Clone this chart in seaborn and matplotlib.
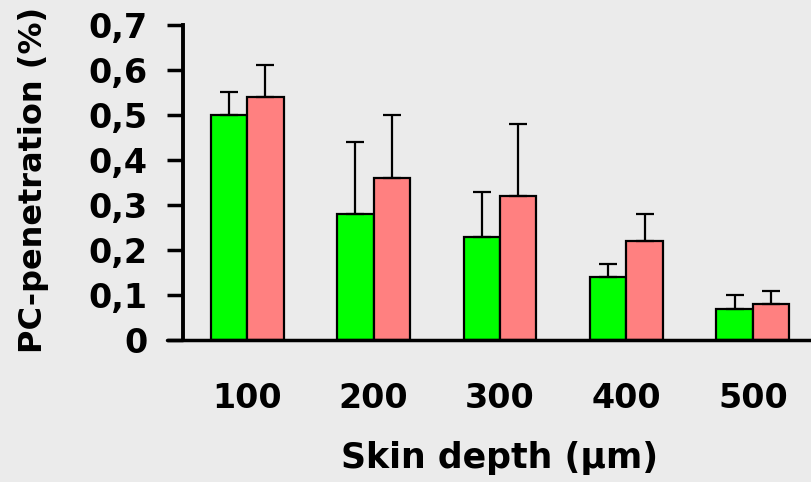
import matplotlib
matplotlib.use("Agg")
import matplotlib.pyplot as plt
import seaborn as sns
import pandas as pd
import numpy as np

depths = ["100", "200", "300", "400", "500"]
series_names = ["A", "B"]
green_vals = [0.50, 0.28, 0.23, 0.14, 0.07]
pink_vals = [0.54, 0.36, 0.32, 0.22, 0.08]
green_err = [0.05, 0.16, 0.10, 0.03, 0.03]
pink_err = [0.07, 0.14, 0.16, 0.06, 0.03]
yticks = [0, 0.1, 0.2, 0.3, 0.4, 0.5, 0.6, 0.7]
ytick_labels = ["0", "0,1", "0,2", "0,3", "0,4", "0,5", "0,6", "0,7"]

bg = "#ebebeb"
sns.set_style("white", {"axes.facecolor": bg, "figure.facecolor": bg,
                        "text.color": "black", "axes.labelcolor": "black",
                        "xtick.color": "black", "ytick.color": "black",
                        "axes.edgecolor": "black"})
plt.rcParams["font.family"] = ["DejaVu Sans"]
plt.rcParams["font.weight"] = "bold"

df = pd.DataFrame({
    "depth": depths * 2,
    "series": [series_names[0]] * 5 + [series_names[1]] * 5,
    "value": green_vals + pink_vals,
})

fig = plt.figure(figsize=(8.12, 4.82), dpi=100)
ax = fig.add_axes([183 / 812, 1 - 340 / 482, 1 - 183 / 812, (340 - 25) / 482])
ax.set_facecolor(bg)

sns.barplot(data=df, x="depth", y="value", hue="series", order=depths,
            hue_order=series_names, palette=["#00ff00", "#ff8080"],
            saturation=1, width=0.575, errorbar=None, edgecolor="black",
            linewidth=1.6, legend=False, ax=ax)

# error bars (upper only) at the bar positions seaborn produced
bars = [p for p in ax.patches]
errs = green_err + pink_err
xs = [b.get_x() + b.get_width() / 2 for b in bars]
heights = [b.get_height() for b in bars]
ax.errorbar(xs, heights, yerr=[np.zeros(len(errs)), errs], fmt="none",
            ecolor="black", elinewidth=1.6, capsize=6.5, capthick=1.6, zorder=1)

ax.set_ylim(0, 0.7)
ax.set_xlim(-0.508, 4.468)
ax.set_yticks(yticks)
ax.set_yticklabels(ytick_labels, fontsize=24, fontweight="bold", color="black")
ax.set_xticks(range(len(depths)))
ax.set_xticklabels(depths, fontsize=24, fontweight="bold", color="black")
ax.tick_params(axis="y", length=11.5, width=2.5, pad=14, direction="out",
               left=True, color="black")
ax.tick_params(axis="x", length=0, pad=30)

for s in ["top", "right", "bottom"]:
    ax.spines[s].set_visible(False)
ax.spines["left"].set_linewidth(2.8)
ax.spines["left"].set_color("black")
ax.axhline(0, xmin=-16 / 629, xmax=1, color="black", lw=2.5, clip_on=False, zorder=5)

ax.set_xlabel("Skin depth (µm)", fontsize=25, fontweight="bold", color="black")
ax.set_ylabel("PC-penetration (%)", fontsize=23, fontweight="bold", color="black")
ax.xaxis.set_label_coords(0.503, -0.3206)
ax.yaxis.set_label_coords(-0.213, 0.508)

fig.savefig("out.png", dpi=100, facecolor=bg)
